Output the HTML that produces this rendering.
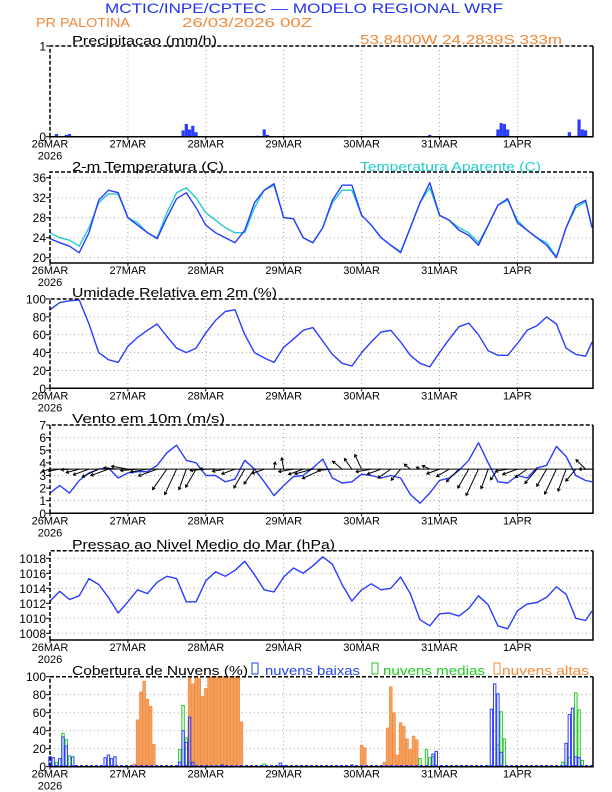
<!DOCTYPE html>
<html><head><meta charset="utf-8"><style>
html,body{margin:0;padding:0;background:#fff}
svg{display:block}
text{font-family:"Liberation Sans",sans-serif}
</style></head><body>
<svg id="chart" width="612" height="792" viewBox="0 0 612 792" xmlns="http://www.w3.org/2000/svg">
<text x="105" y="13" font-size="14" fill="#2233ee" textLength="398" lengthAdjust="spacingAndGlyphs">MCTIC/INPE/CPTEC — MODELO REGIONAL WRF</text>
<text x="36" y="27" font-size="13" fill="#f08a3a" textLength="94" lengthAdjust="spacingAndGlyphs">PR PALOTINA</text>
<text x="182" y="27" font-size="13" fill="#f08a3a" textLength="130" lengthAdjust="spacingAndGlyphs">26/03/2026 00Z</text>
<text x="360" y="44" font-size="13" fill="#f08a3a" textLength="202" lengthAdjust="spacingAndGlyphs">53.8400W 24.2839S 333m</text>
<text x="72" y="45" font-size="13" fill="#000" textLength="145" lengthAdjust="spacingAndGlyphs">Precipitacao (mm/h)</text>
<text x="72" y="171" font-size="13" fill="#000" textLength="152" lengthAdjust="spacingAndGlyphs">2-m Temperatura (C)</text>
<text x="360" y="171" font-size="13" fill="#22cccc" textLength="181" lengthAdjust="spacingAndGlyphs">Temperatura Aparente (C)</text>
<text x="72" y="297" font-size="13" fill="#000" textLength="205" lengthAdjust="spacingAndGlyphs">Umidade Relativa em 2m (%)</text>
<text x="72" y="423" font-size="13" fill="#000" textLength="153" lengthAdjust="spacingAndGlyphs">Vento em 10m (m/s)</text>
<text x="72" y="549" font-size="13" fill="#000" textLength="263" lengthAdjust="spacingAndGlyphs">Pressao ao Nivel Medio do Mar (hPa)</text>
<text x="72" y="675" font-size="13" fill="#000" textLength="176" lengthAdjust="spacingAndGlyphs">Cobertura de Nuvens (%)</text>
<rect x="252" y="663" width="6" height="11" fill="none" stroke="#2244ee" stroke-width="1"/>
<text x="265" y="675" font-size="13" fill="#2244ee" textLength="95" lengthAdjust="spacingAndGlyphs">nuvens baixas</text>
<rect x="372" y="663" width="6" height="11" fill="none" stroke="#22cc22" stroke-width="1"/>
<text x="383" y="675" font-size="13" fill="#22cc22" textLength="102" lengthAdjust="spacingAndGlyphs">nuvens medias</text>
<rect x="494" y="663" width="6" height="11" fill="none" stroke="#f08a3a" stroke-width="1"/>
<text x="502" y="675" font-size="13" fill="#f08a3a" textLength="87" lengthAdjust="spacingAndGlyphs">nuvens altas</text>
</svg>
<script>
const hours=[0,3,6,9,12,15,18,21,24,27,30,33,36,39,42,45,48,51,54,57,60,63,66,69,72,75,78,81,84,87,90,93,96,99,102,105,108,111,114,117,120,123,126,129,132,135,138,141,144,147,150,153,156,159,162,165,167];
const dayLabels=["26MAR","27MAR","28MAR","29MAR","30MAR","31MAR","1APR"];
const temp=[23.8,23.0,22.3,21.0,25.0,31.5,33.5,33.0,28.0,26.5,25.0,23.8,28.0,31.8,33.0,30.0,26.5,25.0,24.0,23.0,25.5,31.0,33.5,34.8,28.0,27.8,24.0,23.0,26.0,31.5,34.5,34.5,28.5,26.5,24.0,22.5,21.0,26.0,31.0,35.0,28.5,27.5,25.5,24.5,22.5,26.5,30.5,31.8,27.0,25.5,24.0,22.5,20.0,26.0,30.5,31.5,26.0];
const tempApparent=[25.0,24.0,23.5,22.3,26.0,31.0,32.8,32.7,28.0,27.0,25.0,24.0,29.0,33.0,34.0,32.0,29.0,27.5,26.0,25.0,25.0,30.0,33.5,34.5,28.0,27.8,24.0,23.0,26.0,31.0,33.5,33.5,28.5,26.5,24.0,22.5,21.2,26.0,31.0,34.0,28.5,27.5,26.0,25.0,23.0,26.5,30.5,31.5,27.5,25.5,24.0,23.0,20.2,26.0,30.0,31.2,26.0];
const humidity=[88,96,98,99,72,40,32,29,47,57,65,72,58,45,40,45,62,76,86,88,60,40,34,29,46,55,65,68,53,38,28,25,40,52,63,65,52,37,28,24,40,55,69,73,60,42,37,37,50,65,70,80,72,45,38,36,52];
const windSpeed=[1.6,2.2,1.6,2.6,3.2,3.5,3.6,2.8,3.2,3.3,3.3,3.8,4.8,5.4,4.2,4.0,3.0,3.0,2.5,2.7,4.2,3.5,2.5,1.4,2.2,2.9,3.0,3.6,4.3,2.8,2.4,2.5,3.1,3.0,2.8,3.0,2.8,1.5,0.8,1.6,2.6,2.8,3.4,4.2,5.6,4.0,2.5,2.4,3.0,2.8,3.6,3.8,5.3,4.5,3.0,2.6,2.5];
const windDir=[195,190,185,195,200,205,200,175,170,185,190,200,235,245,250,240,185,180,190,200,240,235,200,80,100,190,200,195,205,185,140,125,115,190,200,215,230,140,150,155,200,210,225,240,245,250,235,190,200,215,230,240,245,250,230,135,180];
const pressure=[1012.3,1013.6,1012.5,1013.0,1015.3,1014.5,1012.8,1010.7,1012.2,1013.8,1013.3,1014.8,1015.6,1015.3,1012.2,1012.2,1015.0,1016.2,1015.6,1016.4,1017.6,1015.8,1013.8,1013.5,1015.5,1016.7,1016.0,1017.0,1018.2,1017.2,1014.5,1012.3,1013.8,1014.6,1013.8,1014.0,1015.5,1013.3,1009.8,1009.0,1010.6,1010.7,1010.3,1011.3,1013.0,1011.8,1009.0,1008.6,1011.0,1011.9,1012.1,1012.8,1014.2,1013.2,1010.0,1009.7,1011.0];
const precipHours=[2,5,6,39,41,42,43,44,45,64,66,67,117,138,139,140,141,160,162,163,164,165];
const precipValues=[0.03,0.02,0.03,0.005,0.07,0.14,0.08,0.12,0.05,0.01,0.08,0.02,0.02,0.08,0.15,0.14,0.08,0.05,0.01,0.19,0.08,0.07];
const highHours=[26,27,28,29,30,31,32,43,44,45,46,47,48,49,50,51,52,53,54,55,56,57,58,59,96,97,103,104,105,106,107,108,109,110,111,112,113];
const highValues=[3,52,83,95,75,67,25,100,92,100,98,78,87,100,100,100,100,100,100,100,100,100,100,50,24,21,5,43,89,60,13,49,45,31,19,34,30];
const lowHours=[0,1,3,4,5,7,8,17,18,19,20,40,41,42,43,44,53,71,72,93,118,119,136,137,138,139,159,160,161,162,163];
const lowValues=[11,10,9,33,23,11,1,10,13,9,11,5,40,27,55,5,2,4,1,2,14,17,64,92,81,16,26,58,65,11,10];
const midHours=[2,4,5,6,40,41,42,43,66,114,116,117,118,135,138,139,140,158,160,162,163,164];
const midValues=[5,37,30,12,19,68,32,5,3,9,19,10,11,1,24,61,31,5,10,82,63,7];

const NS='http://www.w3.org/2000/svg';
const svg=document.getElementById('chart');
const X0=50,X1=593,PXH=77.9/24;
function xs(h){return X0+h*PXH;}
function mk(tag,attrs,parent){const e=document.createElementNS(NS,tag);for(const k in attrs)e.setAttribute(k,attrs[k]);(parent||svg).appendChild(e);return e;}
function yScale(p){return v=>p.y0+(v-p.v0)*(p.y1-p.y0)/(p.v1-p.v0);}

const panels=[
 {key:'precip',top:46,bottom:136.7,v0:0,y0:136.7,v1:1,y1:46,ticks:[0,1]},
 {key:'temp',top:172,bottom:263,v0:20,y0:257.7,v1:36,y1:177.7,ticks:[20,24,28,32,36]},
 {key:'rh',top:299,bottom:388.3,v0:0,y0:388.3,v1:100,y1:299,ticks:[0,20,40,60,80,100]},
 {key:'wind',top:425,bottom:513.3,v0:0,y0:513.3,v1:7,y1:425,ticks:[0,1,2,3,4,5,6,7]},
 {key:'pressure',top:550.7,bottom:640,v0:1008,y0:633.3,v1:1018,y1:558.3,ticks:[1008,1010,1012,1014,1016,1018]},
 {key:'cloud',top:676.7,bottom:766.7,v0:0,y0:766.7,v1:100,y1:676.7,ticks:[0,20,40,60,80,100]}
];
panels.forEach(p=>{
 const g=mk('g',{});
 
 
 p.g=g;p.y=yScale(p);
 for(let d=1;d<7;d++){
  const l=mk('line',{x1:xs(d*24),x2:xs(d*24),y1:p.top,y2:p.bottom,stroke:'#aaa','stroke-width':1,'stroke-dasharray':'1,3'},g);
  
  
 }
 p.ticks.forEach(t=>{
  const yy=p.y(t);
  if(yy>p.top+2&&yy<p.bottom-2){
   const l=mk('line',{x1:X0,x2:X1,y1:yy,y2:yy,stroke:'#aaa','stroke-width':1,'stroke-dasharray':'1,3'},g);
   
   
  }
  const tk=mk('line',{x1:X0-4,x2:X0,y1:yy,y2:yy,stroke:'#000','stroke-width':1},g);
  
  
  const tx=mk('text',{x:X0-4,y:yy+4.5,'font-size':12,'text-anchor':'end',fill:'#000'},g);
  tx.textContent=t;
  
  
 });
 dayLabels.forEach((lab,i)=>{
  const tx=mk('text',{x:xs(i*24),y:p.bottom+11,'font-size':11,'text-anchor':'middle',fill:'#000'},g);
  tx.textContent=lab;
  
  
  const tk=mk('line',{x1:xs(i*24),x2:xs(i*24),y1:p.bottom,y2:p.bottom+3,stroke:'#000'},g);
  
  
 });
 const yr=mk('text',{x:X0,y:p.bottom+23,'font-size':11,'text-anchor':'middle',fill:'#000'},g);
 yr.textContent='2026';
 
 
});
function frame(p){
 const a=mk('path',{d:`M${X0},${p.bottom}V${p.top}H${X1}`,fill:'none',stroke:'#000','stroke-width':1.5,'stroke-dasharray':'4,2'},p.g);
 
 
 const b=mk('path',{d:`M${X1},${p.top}V${p.bottom}H${X0}`,fill:'none',stroke:'#000','stroke-width':1.5},p.g);
 
 
}
function line(p,vals,color,name){
 const d=vals.map((v,i)=>(i?'L':'M')+xs(hours[i]).toFixed(1)+','+p.y(v).toFixed(1)).join('');
 const e=mk('path',{d:d,fill:'none',stroke:color,'stroke-width':1.4,'stroke-linejoin':'round'},p.g);
 
 
}
// precip
const P=panels;
precipHours.forEach((h,i)=>{
 const y=P[0].y(precipValues[i]);
 const r=mk('rect',{x:xs(h)-1.6,y:y,width:3.2,height:Math.max(P[0].bottom-y,0.5),fill:'#2a3cff'},P[0].g);
 
 
});
line(P[1],tempApparent,'#22cccc','apparent-temp-line');
line(P[1],temp,'#2a3cff','temp-line');
line(P[2],humidity,'#2a3cff','humidity-line');
line(P[3],windSpeed,'#2a3cff','wind-speed-line');
// wind arrows
windSpeed.forEach((s,i)=>{
 const x=xs(hours[i]),y=P[3].y(3.5),L=s*5.2,a=windDir[i]*Math.PI/180;
 const x2=x+L*Math.cos(a),y2=y-L*Math.sin(a);
 const ha=Math.atan2(y2-y,x2-x);
 const d=`M${x},${y}L${x2},${y2}M${x2+3*Math.cos(ha+2.6)},${y2+3*Math.sin(ha+2.6)}L${x2},${y2}L${x2+3*Math.cos(ha-2.6)},${y2+3*Math.sin(ha-2.6)}`;
 const e=mk('path',{d:d,fill:'none',stroke:'#000','stroke-width':1},P[3].g);
 
 
});
const base=mk('line',{x1:X0,x2:X1,y1:P[3].y(3.5),y2:P[3].y(3.5),stroke:'#000','stroke-width':1},P[3].g);


line(P[4],pressure,'#2a3cff','pressure-line');
// clouds
highHours.forEach((h,i)=>{
 const y=P[5].y(highValues[i]);
 const r=mk('rect',{x:xs(h)-1.4,y:y,width:2.8,height:P[5].bottom-y,fill:'#f5a060',stroke:'#f08a3a','stroke-width':0.6},P[5].g);
 
 
});
midHours.forEach((h,i)=>{
 const y=P[5].y(midValues[i]);
 const r=mk('rect',{x:xs(h)-1.2,y:y,width:2.4,height:P[5].bottom-y,fill:'none',stroke:'#22cc22','stroke-width':1},P[5].g);
 
 
});
lowHours.forEach((h,i)=>{
 const y=P[5].y(lowValues[i]);
 const r=mk('rect',{x:xs(h)-1.2,y:y,width:2.4,height:P[5].bottom-y,fill:'none',stroke:'#2a3cff','stroke-width':1},P[5].g);
 
 
});
const cb=mk('line',{x1:X0,x2:X1,y1:P[5].bottom-1,y2:P[5].bottom-1,stroke:'#2a3cff','stroke-width':1.5,'stroke-dasharray':'3,2'},P[5].g);


panels.forEach(frame);
</script>
</body></html>
